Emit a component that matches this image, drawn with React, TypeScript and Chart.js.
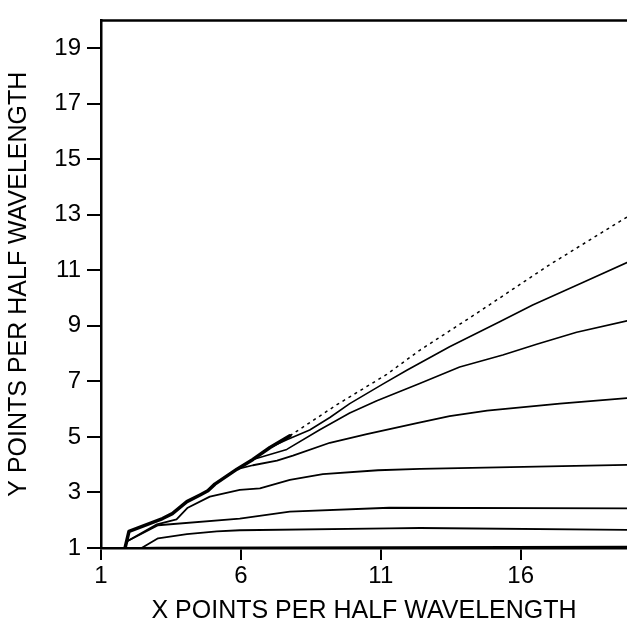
import React, { useEffect, useRef } from "react";
import { Chart, registerables } from "chart.js";

Chart.register(...registerables);

const xTicks = [1, 6, 11, 16];
const yTicks = [1, 3, 5, 7, 9, 11, 13, 15, 17, 19];
const xTitle = "X POINTS PER HALF WAVELENGTH";
const yTitle = "Y POINTS PER HALF WAVELENGTH";

// thick solid envelope (lower part of the limiting curve)
const envelopeX = [1.86, 2.0, 3.2, 3.55, 4.07, 4.54, 4.82, 5.07, 5.86, 6.43, 7.04, 7.75];
const envelopeY = [1.0, 1.6, 2.06, 2.24, 2.67, 2.91, 3.06, 3.3, 3.84, 4.19, 4.62, 5.04];
// dashed continuation of the limiting curve
const dashedX = [7.75, 9.43, 11.21, 12.39, 14.5, 17.0, 19.8];
const dashedY = [5.04, 6.16, 7.25, 8.12, 9.5, 11.18, 12.92];
// solid contour lines, top to bottom
const line2X = [7.04, 7.64, 8.46, 9.18, 9.89, 11.07, 11.93, 13.46, 15.25, 16.43, 18.2, 19.8];
const line2Y = [4.62, 4.9, 5.25, 5.7, 6.2, 6.9, 7.4, 8.25, 9.15, 9.75, 10.55, 11.28];
const line3X = [6.43, 7.64, 8.82, 9.89, 10.86, 12.39, 13.82, 15.36, 16.57, 18.0, 19.8];
const line3Y = [4.19, 4.55, 5.26, 5.86, 6.3, 6.92, 7.52, 7.95, 8.34, 8.77, 9.18];
const line4X = [5.86, 6.43, 7.29, 7.86, 9.18, 10.5, 12.29, 13.46, 14.8, 17.4, 19.8];
const line4Y = [3.84, 3.98, 4.15, 4.33, 4.79, 5.1, 5.5, 5.75, 5.95, 6.2, 6.4];
const line5X = [1.95, 3.0, 3.7, 4.1, 4.89, 5.96, 6.68, 7.75, 8.93, 10.9, 12.4, 19.8];
const line5Y = [1.25, 1.85, 2.03, 2.45, 2.85, 3.09, 3.15, 3.45, 3.66, 3.8, 3.85, 3.99];
const line6X = [1.95, 3.04, 5.96, 7.75, 11.3, 19.8];
const line6Y = [1.25, 1.82, 2.06, 2.31, 2.45, 2.43];
const line7X = [2.45, 3.04, 4.07, 5.14, 5.96, 11.3, 12.4, 19.8];
const line7Y = [1.0, 1.35, 1.5, 1.6, 1.64, 1.71, 1.72, 1.65];
const line8X = [1.95, 3.0, 19.8];
const line8Y = [1.0, 1.02, 1.05];

const FONT = "'Liberation Sans', Arial, Helvetica, sans-serif";

const frameTop = {
  id: "frameTop",
  afterDraw(c: any) {
    const { ctx, chartArea: a } = c;
    ctx.save();
    ctx.strokeStyle = "#000";
    ctx.lineWidth = 2.5;
    ctx.beginPath();
    ctx.moveTo(a.left - 1, a.top);
    ctx.lineTo(a.right, a.top);
    ctx.stroke();
    ctx.restore();
  },
};

export default function App() {
  const ref = useRef<HTMLCanvasElement>(null);
  useEffect(() => {
    const mk = (xs: number[], ys: number[]) => xs.map((x, i) => ({ x, y: ys[i] }));
    const base = {
      borderColor: "#000",
      pointRadius: 0,
      fill: false,
      tension: 0,
      borderJoinStyle: "round" as const,
      borderCapStyle: "round" as const,
    };
    const chart = new Chart(ref.current!, {
      type: "line",
      data: {
        datasets: [
          { ...base, data: mk(line8X, line8Y), borderWidth: 1.6 },
          { ...base, data: mk(line7X, line7Y), borderWidth: 1.8 },
          { ...base, data: mk(line6X, line6Y), borderWidth: 1.8 },
          { ...base, data: mk(line5X, line5Y), borderWidth: 1.8 },
          { ...base, data: mk(line4X, line4Y), borderWidth: 1.8 },
          { ...base, data: mk(line3X, line3Y), borderWidth: 1.6 },
          { ...base, data: mk(line2X, line2Y), borderWidth: 1.6 },
          { ...base, data: mk(dashedX, dashedY), borderWidth: 1.5, borderDash: [3, 4], borderCapStyle: "butt" as const },
          { ...base, data: mk(envelopeX, envelopeY), borderWidth: 3.5 },
        ],
      },
      options: {
        responsive: false,
        animation: false,
        layout: { padding: { top: 11, right: 0, left: 0, bottom: 0 } },
        plugins: { legend: { display: false }, tooltip: { enabled: false } },
        scales: {
          x: {
            type: "linear",
            min: 1,
            max: 19.8,
            afterBuildTicks: (s: any) => {
              s.ticks = xTicks.map((v) => ({ value: v }));
            },
            afterFit: (s: any) => {
              s.height = 80;
            },
            grid: { drawOnChartArea: false, drawTicks: true, tickLength: 12, color: "#000", lineWidth: 2 },
            border: { display: true, color: "#000", width: 2.5 },
            ticks: { color: "#000", font: { family: FONT, size: 24 }, padding: 2, maxRotation: 0, autoSkip: false },
            title: {
              display: true,
              text: xTitle,
              color: "#000",
              font: { family: FONT, size: 25 },
              padding: { top: 0, bottom: 2 },
            },
          },
          y: {
            type: "linear",
            min: 1,
            max: 20,
            afterBuildTicks: (s: any) => {
              s.ticks = yTicks.map((v) => ({ value: v }));
            },
            afterFit: (s: any) => {
              s.width = 101;
            },
            grid: { drawOnChartArea: false, drawTicks: true, tickLength: 14, color: "#000", lineWidth: 2 },
            border: { display: true, color: "#000", width: 2.5 },
            ticks: { color: "#000", font: { family: FONT, size: 24 }, padding: 6, autoSkip: false },
            title: {
              display: true,
              text: yTitle,
              color: "#000",
              font: { family: FONT, size: 25 },
              padding: { top: 4, bottom: 0 },
            },
          },
        },
      },
      plugins: [frameTop],
    });
    return () => chart.destroy();
  }, []);
  return (
    <div style={{ position: "fixed", left: 0, top: 0, width: 627, height: 628, background: "#fff" }}>
      <canvas ref={ref} width={627} height={628} style={{ display: "block" }} />
    </div>
  );
}
